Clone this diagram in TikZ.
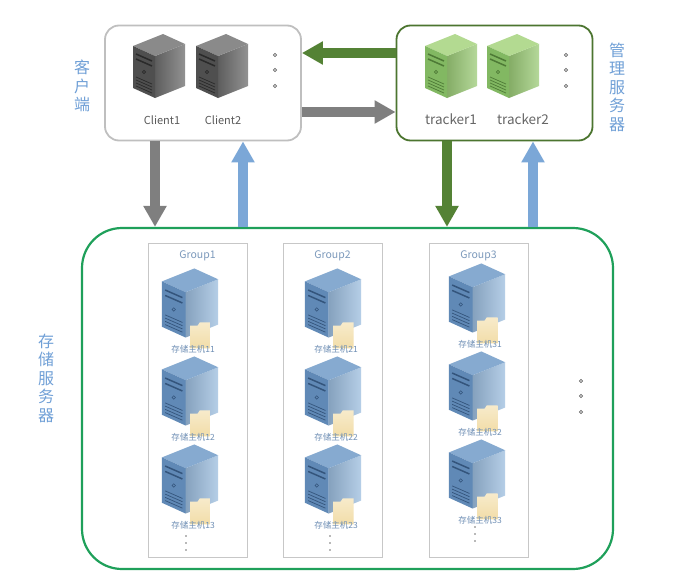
\documentclass[tikz,border=0pt]{standalone}
\usepackage{fontspec}
\usepackage{tikz}
\usetikzlibrary{arrows.meta}
\newfontfamily\cjk{Noto Sans CJK SC}
\definecolor{cltop}{HTML}{8A8A8A}
\definecolor{clfront}{HTML}{4F4F4F}
\definecolor{clside}{HTML}{6E6E6E}
\definecolor{cldark}{HTML}{2A2A2A}
\definecolor{trtop}{HTML}{B3DA91}
\definecolor{trfront}{HTML}{82B862}
\definecolor{trside}{HTML}{9CCB78}
\definecolor{trdark}{HTML}{4E7A36}
\definecolor{sttop}{HTML}{86AAD0}
\definecolor{stfront}{HTML}{6089B6}
\definecolor{stside}{HTML}{9DBEDF}
\definecolor{stdark}{HTML}{34557C}
\definecolor{folderc}{HTML}{F2DDA8}
\definecolor{arrgray}{HTML}{7F7F7F}
\definecolor{arrgreen}{HTML}{548235}
\definecolor{arrblue}{HTML}{7BA7D7}
\definecolor{storegreen}{HTML}{1FA05A}
\definecolor{labelblue}{HTML}{6F9FD6}
\definecolor{hostblue}{HTML}{6F8FB5}
\definecolor{textgray}{HTML}{595959}

\tikzset{
  server/.pic={
    \shade[left color=#1side!85!black, right color=#1side!75!white]
      (-4,-10) -- (26,-22) -- (26,20) -- (-4,32) -- cycle;
    \fill[#1top] (-26,-20) -- (4,-32) -- (26,-22) -- (-4,-10) -- cycle;
    \fill[#1front] (-26,-20) -- (-4,-10) -- (-4,32) -- (-26,22) -- cycle;
    \draw[#1dark, line width=1.5pt] (-23,-12) -- (-7,-5) (-23,-7) -- (-7,0);
    \draw[#1dark, line width=0.6pt] (-15,6) circle (1.6);
    \foreach \k in {0,3,6,9}
      \draw[#1dark, line width=0.7pt] (-23,11+\k) -- (-7,18+\k);
  },
  folder/.pic={
    \shade[top color=folderc!60!white, bottom color=folderc]
      (0,21) -- (7,21) -- (9,18) -- (19,18) -- (19,42) -- (0,42) -- cycle;
  },
  box/.style={draw, line width=1.8pt, rounded corners=14pt, fill=white,
    minimum width=196pt, minimum height=115pt},
  groupbox/.style={draw=black!22, line width=0.8pt, fill=white,
    minimum width=99pt, minimum height=314pt},
  bigarrow/.style={line width=10pt, -{Triangle[width=22pt,length=21pt]}},
  sidelbl/.style={labelblue, align=center, font=\cjk\fontsize{16pt}{18.5pt}\selectfont},
  hostlbl/.style={hostblue, font=\cjk\fontsize{8.5pt}{10pt}\selectfont},
  dotc/.style={draw=black!60, line width=0.6pt},
}

\begin{document}
\begin{tikzpicture}[x=1pt, y=-1pt]
\useasboundingbox (0,0) rectangle (696,586);

\node[box, draw=black!25] (client) at (203,83) {};
\node[box, draw=arrgreen!90!black] (tracker) at (494.5,83) {};
\node[draw=storegreen, line width=2.2pt, rounded corners=40pt,
  minimum width=531pt, minimum height=341pt] (storage) at (347.5,398.5) {};

% arrows
\draw[bigarrow, arrgreen] ([yshift=30pt]tracker.west) -- ([yshift=30pt]tracker.west -| client.east);
\draw[bigarrow, arrgray] ([yshift=-29pt]client.east) -- ([yshift=-29pt]client.east -| tracker.west);
\draw[bigarrow, arrgray] ([xshift=-48pt]client.south) -- ([xshift=-48pt]client.south |- storage.north);
\draw[bigarrow, arrblue] ([xshift=40pt]client.south |- storage.north) -- ([xshift=40pt]client.south);
\draw[bigarrow, arrgreen] ([xshift=-47.5pt]tracker.south) -- ([xshift=-47.5pt]tracker.south |- storage.north);
\draw[bigarrow, arrblue] ([xshift=38.5pt]tracker.south |- storage.north) -- ([xshift=38.5pt]tracker.south);

% clients and trackers
\pic at (159,66) {server=cl};
\pic at (222,66) {server=cl};
\pic at (451,66) {server=tr};
\pic at (513,66) {server=tr};
\node[textgray, font=\cjk\fontsize{11pt}{12pt}\selectfont] (client1) at (162,120) {Client1};
\node[textgray, font=\cjk\fontsize{11pt}{12pt}\selectfont] (client2) at (223,120) {Client2};
\node[black!60, font=\cjk\fontsize{13.5pt}{15pt}\selectfont] (tracker1) at (451,119) {tracker1};
\node[black!60, font=\cjk\fontsize{13.5pt}{15pt}\selectfont] (tracker2) at (523,119) {tracker2};
\foreach \y in {55,70,86} {
  \draw[dotc] (275,\y) circle (1.6);
  \draw[dotc] (566,\y) circle (1.6);
}

\node[sidelbl] (clientlbl) at (82,86) {客\\户\\端};
\node[sidelbl] (trackerlbl) at (617,87) {管\\理\\服\\务\\器};
\node[sidelbl] (storagelbl) at (46,378) {存\\储\\服\\务\\器};

% groups
\foreach \g/\gx in {1/197.5, 2/332.5, 3/478.5} {
  \node[groupbox] (group\g) at (\gx,400) {};
  \node[hostblue!90!white, font=\cjk\fontsize{10.5pt}{12pt}\selectfont] (glabel\g) at (\gx,256) {Group\g};
}
\foreach \g/\hx/\hy in {1/190/303, 2/333/303, 3/477/298}
  \foreach \n in {1,2,3} {
    \pic[scale=1.08] at (\hx,{\hy+88*(\n-1)}) {server=st};
    \pic[scale=1.08] at (\hx,{\hy+88*(\n-1)}) {folder};
    \node[hostlbl] (host\g\n) at (\hx+3,{\hy+88*(\n-1)+46}) {存储主机\g\n};
  }
\foreach \x/\y in {186/536, 330/536, 475/527}
  \foreach \k in {0,7,14}
    \fill[black!55] (\x,\y+\k) circle (0.8);
\foreach \y in {381,396,412}
  \draw[dotc] (581,\y) circle (1.6);
\end{tikzpicture}
\end{document}
